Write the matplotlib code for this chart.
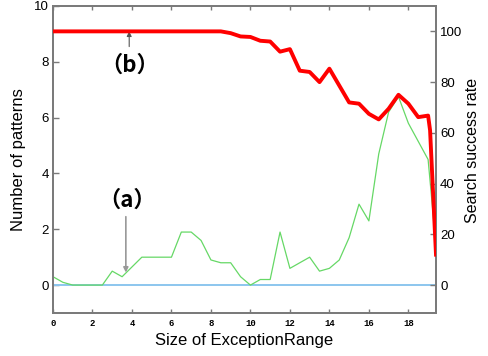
import matplotlib
matplotlib.use("Agg")
import matplotlib.pyplot as plt

# ---- data ----
green_x = [0, 0.5, 1, 2.5, 3, 3.5, 4.5, 6, 6.5, 7, 7.5, 8, 8.5, 9, 9.5, 10,
           10.5, 11, 11.5, 12, 12.5, 13, 13.5, 14, 14.5, 15, 15.5, 16, 16.5,
           17, 17.5, 18, 18.5, 19, 19.4]
green_y = [0.3, 0.1, 0, 0, 0.5, 0.3, 1.0, 1.0, 1.9, 1.9, 1.6, 0.9, 0.8, 0.8,
           0.3, 0.0, 0.2, 0.2, 1.9, 0.6, 0.8, 1.0, 0.5, 0.6, 0.9, 1.7, 2.9,
           2.3, 4.7, 6.2, 6.75, 5.8, 5.15, 4.5, 1.4]

red_x = [0, 8.5, 9, 9.5, 10, 10.5, 11, 11.5, 12, 12.5, 13, 13.5, 14, 15,
         15.5, 16, 16.5, 17, 17.5, 18, 18.5, 19, 19.1, 19.4]
red_y = [100, 100, 99.3, 98, 97.8, 96.3, 96, 92, 93, 84.5, 84, 80, 85.3, 72,
         71.5, 67.5, 65.3, 69.5, 75, 71.5, 66.2, 66.8, 61, 12]

blue_x = [0, 19.4]
blue_y = [0, 0]

x_ticks = [0, 2, 4, 6, 8, 10, 12, 14, 16, 18]
left_ticks = [0, 2, 4, 6, 8, 10]
right_ticks = [0, 20, 40, 60, 80, 100]

fig = plt.figure(figsize=(4.88, 3.56), dpi=100)
ax = fig.add_axes([53/488, 43/356, 383/488, 307/356])
ax2 = ax.twinx()

spine_c = '#7a7a7a'
ax.plot(blue_x, blue_y, color='#8cc6ee', lw=1.4, zorder=2)
ax.plot(green_x, green_y, color='#66d866', lw=0.9, zorder=3)
ax2.plot(red_x, red_y, color='#ff0000', lw=2.8, zorder=4, solid_joinstyle='round')

ax.set_xlim(0, 19.4)
ax.set_ylim(-1.0, 10.0)
ax2.set_ylim(-11, 110)

ax.set_xticks(x_ticks)
ax.set_xticklabels([str(t) for t in x_ticks], fontsize=6.5,
                   fontweight='bold', family='Liberation Mono')
ax.set_yticks(left_ticks)
ax.set_yticklabels([str(t) for t in left_ticks], fontsize=9.5, family='Liberation Sans')
ax2.set_yticks(right_ticks)
ax2.set_yticklabels([str(t) for t in right_ticks], fontsize=9.5, family='Liberation Sans')

ax.tick_params(axis='x', direction='in', length=3, width=1, color=spine_c, top=True, pad=4)
ax.tick_params(axis='y', direction='in', length=4, width=1, color=spine_c, pad=3)
ax2.tick_params(axis='y', direction='in', length=4, width=1, color=spine_c, pad=3)

for a in (ax, ax2):
    for s in a.spines.values():
        s.set_color(spine_c)
        s.set_linewidth(1.3)

ax.set_xlabel('Size of ExceptionRange', fontsize=12, family='Liberation Sans', labelpad=4)
ax.set_ylabel('Number of patterns', fontsize=12, family='Liberation Sans', labelpad=6)
ax2.set_ylabel('Search success rate', fontsize=11.5, family='Liberation Sans')
ax2.yaxis.set_label_coords(1.075, 0.53)

# annotations
ax2.annotate('', xy=(3.86, 100), xytext=(3.86, 94),
             arrowprops=dict(arrowstyle='-|>', color='#555555', lw=0.8,
                             mutation_scale=7, shrinkA=0, shrinkB=0))
ax2.text(3.86, 86.5, '（b）', ha='center', va='center', fontsize=16,
         fontweight='bold', family=['Noto Sans CJK JP', 'DejaVu Sans'], zorder=6)

ax.annotate('', xy=(3.69, 0.45), xytext=(3.69, 2.45),
            arrowprops=dict(arrowstyle='-|>', color='#999999', lw=1.2,
                            mutation_scale=7, shrinkA=0, shrinkB=0))
ax.text(3.76, 3.05, '（a）', ha='center', va='center', fontsize=16,
        fontweight='bold', family=['Noto Sans CJK JP', 'DejaVu Sans'], zorder=6)

fig.savefig('out.png', dpi=100)
